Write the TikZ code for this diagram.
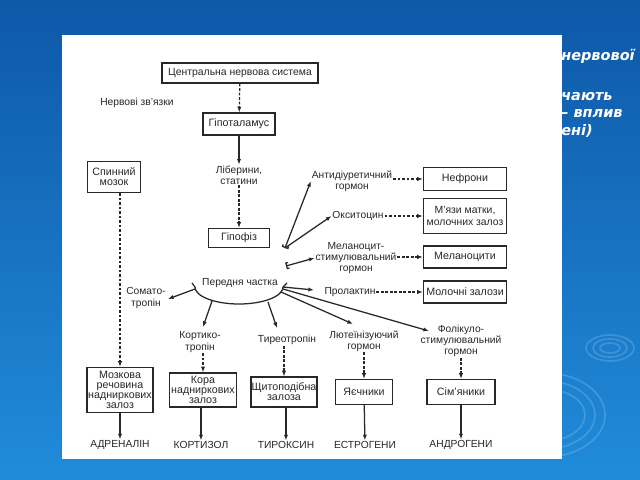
\documentclass[tikz,border=0pt]{standalone}
\usepackage{fontspec}
\setmainfont{Liberation Sans}
\newfontfamily\rtfont{DejaVu Sans}
\usetikzlibrary{arrows.meta,calc}
\newcommand{\fs}{\fontsize{7.3}{7.9}\selectfont}
\newcommand{\fb}{\fontsize{7.6}{7.1}\selectfont}
\definecolor{bgtop}{RGB}{14,88,168}
\definecolor{bgbot}{RGB}{32,140,218}
\definecolor{ink}{RGB}{40,40,40}
\begin{document}
\begin{tikzpicture}[x=0.025cm,y=-0.025cm,
  box/.style={draw=ink, line width=0.9pt, fill=white, font=\fb, align=center, inner sep=0.5pt, text=ink},
  lbl/.style={font=\fs, align=center, inner sep=0.5pt, text=ink},
  capt/.style={font=\fontsize{7.3}{9}\selectfont, inner sep=0.5pt, text=ink},
  sol/.style={draw=ink, -{Latex[length=4pt,width=3pt]}, line width=0.9pt},
  dsh/.style={draw=ink, -{Latex[length=4pt,width=3pt]}, line width=0.9pt, dash pattern=on 2pt off 1.2pt},
  hk/.style={draw=ink, {Bracket[width=5pt,length=1.5pt]}-{Latex[length=4pt,width=3pt]}, line width=0.9pt},
  rt/.style={text=white, font=\rtfont\bfseries\itshape\fontsize{10.3}{12}\selectfont, anchor=west, inner sep=0pt},
  rip/.style={draw=white, opacity=0.16, line width=1.2pt}
]
\useasboundingbox (0,0) rectangle (640,480);
\shade[top color=bgtop, bottom color=bgbot] (0,0) rectangle (640,480);
% ripples
\draw[rip] (610,348) ellipse [x radius=24, y radius=13];
\draw[rip] (610,348) ellipse [x radius=17, y radius=9];
\draw[rip] (610,348) ellipse [x radius=10, y radius=5];
\draw[rip] (545,415) ellipse [x radius=60, y radius=42];
\draw[rip] (545,415) ellipse [x radius=50, y radius=34];
\draw[rip] (545,415) ellipse [x radius=40, y radius=26];
% partial slide text
\node[rt] (t1) at (561,56) {нервової};
\node[rt] (t2) at (561,97) {чають};
\node[rt] (t3) at (561,114) {– вплив};
\node[rt] (t4) at (561,131) {ені)};
% panel
\fill[white] (62,35) rectangle (562,459);

% nodes
\node[box, font=\fontsize{7.4}{8}\selectfont, minimum width=156*0.025cm, minimum height=20*0.025cm] (cns) at (240,73) {Центральна нервова система};
\node[lbl] (nz) at (137,103) {Нервові зв’язки};
\node[box, minimum width=72*0.025cm, minimum height=22*0.025cm] (hyp) at (239,124) {Гіпоталамус};
\node[lbl] (lib) at (239,175) {Ліберини,\\статини};
\node[box, minimum width=61*0.025cm, minimum height=19*0.025cm] (pit) at (239,238) {Гіпофіз};
\node[box, minimum width=53*0.025cm, minimum height=31*0.025cm] (spin) at (114,177) {Спинний\\мозок};
\node[box, minimum width=66*0.025cm, minimum height=45*0.025cm] (medul) at (120,390) {Мозкова\\речовина\\надниркових\\залоз};
\node[capt] (adr) at (120,445) {АДРЕНАЛІН};
\node[lbl] (cort) at (200,342) {Кортико-\\тропін};
\node[box, minimum width=67*0.025cm, minimum height=34*0.025cm] (kora) at (203,390) {Кора\\надниркових\\залоз};
\node[capt] (kortizol) at (201,445) {КОРТИЗОЛ};
\node[lbl] (tir) at (287,340) {Тиреотропін};
\node[box, minimum width=66*0.025cm, minimum height=30*0.025cm] (thy) at (284,392) {Щитоподібна\\залоза};
\node[capt] (tiroksin) at (286,445) {ТИРОКСИН};
\node[lbl] (lh) at (364,341) {Лютеїнізуючий\\гормон};
\node[box, minimum width=57*0.025cm, minimum height=25*0.025cm] (ova) at (364,392) {Яєчники};
\node[capt] (estr) at (365,445) {ЕСТРОГЕНИ};
\node[lbl] (fsh) at (461,341) {Фолікуло-\\стимулювальний\\гормон};
\node[box, minimum width=68*0.025cm, minimum height=25*0.025cm] (test) at (461,392) {Сім’яники};
\node[capt] (andr) at (461,445) {АНДРОГЕНИ};
\node[lbl] (adh) at (352,181) {Антидіуретичний\\гормон};
\node[box, minimum width=83*0.025cm, minimum height=23*0.025cm] (neph) at (465,179) {Нефрони};
\node[lbl] (oxy) at (358,216) {Окситоцин};
\node[box, font=\fontsize{7.4}{8.6}\selectfont, minimum width=83*0.025cm, minimum height=35*0.025cm] (mus) at (465,216) {М’язи матки,\\молочних залоз};
\node[lbl] (msh) at (356,258) {Меланоцит-\\стимулювальний\\гормон};
\node[box, minimum width=83*0.025cm, minimum height=22*0.025cm] (mel) at (465,257) {Меланоцити};
\node[lbl] (prl) at (350,292) {Пролактин};
\node[box, minimum width=83*0.025cm, minimum height=22*0.025cm] (mam) at (465,292) {Молочні залози};
\node[lbl] (ant) at (240,283) {Передня частка};
\node[lbl] (somato) at (146,298) {Сомато-\\тропін};

% anterior lobe arc
\coordinate (aL) at (195,287);
\coordinate (aR) at (283,287);
\draw[ink, line width=0.9pt] (aL) arc[start angle=180, end angle=360, x radius=44, y radius=-17];
\draw[ink, line width=0.9pt] (aL) -- (192,283);
\draw[ink, line width=0.9pt] (aR) -- (287,283);
\coordinate (aK) at (212,301);
\coordinate (aT) at (268,302);
\coordinate (aR2) at (281,292);
\coordinate (aR3) at (283,289);
\coordinate (tK) at (203,327);
\coordinate (tT) at (277,328);
\coordinate (tP) at (314,290);
\coordinate (tL) at (353,324);
\coordinate (tF) at (429,331);
\coordinate (tS) at (168,299);
\coordinate (h1) at (285,248);
\coordinate (h2) at (286,266);

% connectors
\draw[dsh] (cns) -- (hyp);
\draw[sol] (hyp) -- (lib);
\draw[dsh] (lib) -- (pit);
\draw[dsh] (medul.north |- spin.south) -- (medul.north);
\draw[sol] (medul) -- (adr);
\draw[dsh] (cort.south -| kora.north) -- (kora.north);
\draw[sol] (kora.south -| kortizol.north) -- (kortizol.north);
\draw[dsh] (tir.south -| thy.north) -- (thy.north);
\draw[sol] (thy.south -| tiroksin.north) -- (tiroksin.north);
\draw[dsh] (lh) -- (ova);
\draw[sol] (ova) -- (estr);
\draw[dsh] (fsh) -- (test);
\draw[sol] (test) -- (andr);
\draw[dsh] (adh.east |- neph.west) -- (neph.west);
\draw[dsh] (oxy.east) -- (mus.west);
\draw[dsh] (msh.east |- mel.west) -- (mel.west);
\draw[dsh] (prl.east) -- (mam.west);

\draw[hk] (h1) -- (adh.west);
\draw[sol] (h1) -- (oxy.west);
\draw[hk] (h2) -- (msh.west);
\draw[sol] (aL) ++(0,2) -- (tS);
\draw[sol] (aK) -- (tK);
\draw[sol] (aT) -- (tT);
\draw[sol] (aR) -- (tP);
\draw[sol] (aR2) -- (tL);
\draw[sol] (aR3) -- (tF);
\end{tikzpicture}
\end{document}
